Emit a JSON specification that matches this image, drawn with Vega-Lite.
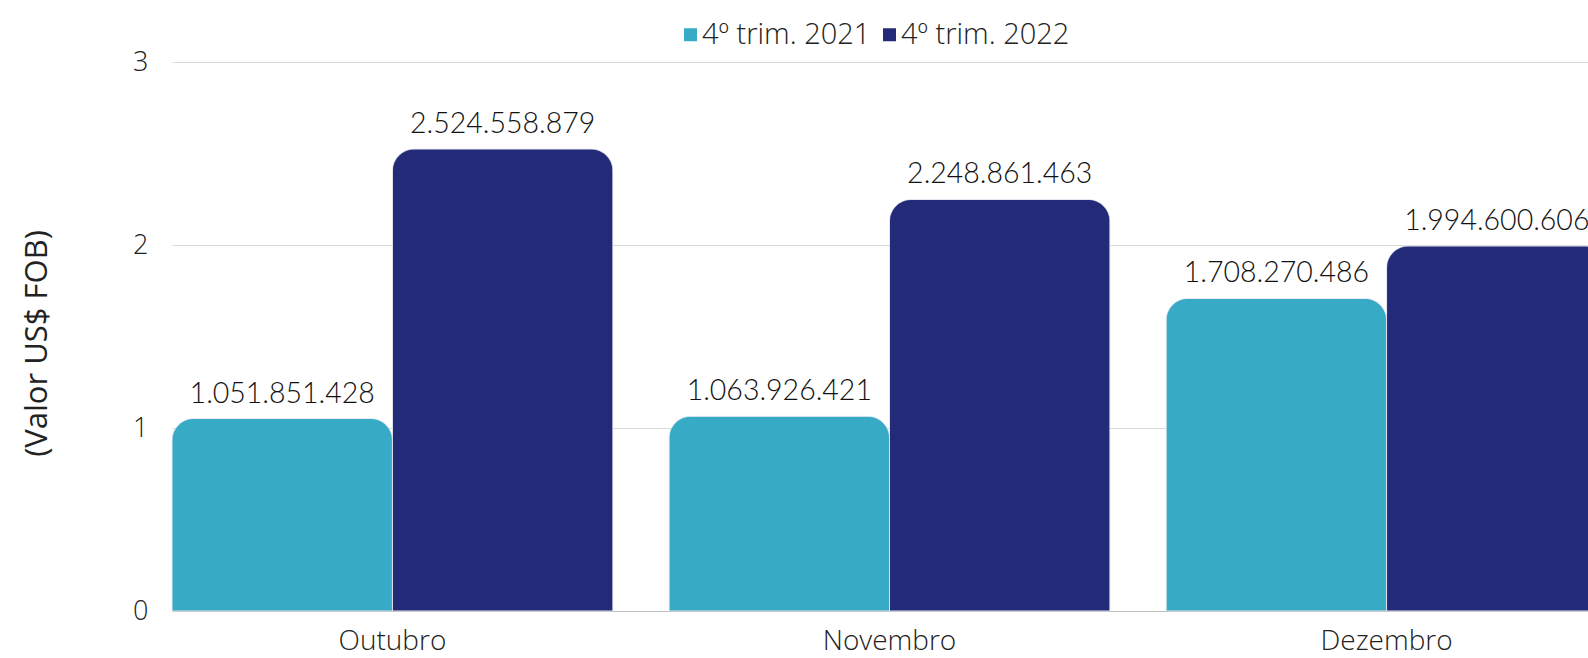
{
  "$schema": "https://vega.github.io/schema/vega-lite/v6.json",
  "autosize": {"type": "none"},
  "width": 1416,
  "height": 549,
  "padding": {"left": 172, "top": 62, "right": 0, "bottom": 47},
  "background": "white",
  "config": {
    "locale": {"number": {"decimal": ",", "thousands": ".", "grouping": [3], "currency": ["R$", ""]}},
    "view": {"stroke": null},
    "font": "Open Sans"
  },
  "data": {
    "values": [
      {"mes": "Outubro", "serie": "4º trim. 2021", "valor": 1051851428},
      {"mes": "Outubro", "serie": "4º trim. 2022", "valor": 2524558879},
      {"mes": "Novembro", "serie": "4º trim. 2021", "valor": 1063926421},
      {"mes": "Novembro", "serie": "4º trim. 2022", "valor": 2248861463},
      {"mes": "Dezembro", "serie": "4º trim. 2021", "valor": 1708270486},
      {"mes": "Dezembro", "serie": "4º trim. 2022", "valor": 1994600606}
    ]
  },
  "encoding": {
    "x": {
      "field": "mes", "type": "nominal", "sort": ["Outubro", "Novembro", "Dezembro"],
      "scale": {"range": [0, 1435], "paddingInner": 0.113, "paddingOuter": 0},
      "axis": {"title": null, "labelAngle": 0, "labelFontSize": 28, "labelFontWeight": 300, "labelColor": "#222222", "labelPadding": 16, "ticks": false, "domainColor": "#bfbfbf", "domainWidth": 1.2, "grid": false}
    },
    "xOffset": {"field": "serie", "type": "nominal", "scale": {"paddingInner": 0, "paddingOuter": 0}},
    "y": {
      "field": "valor", "type": "quantitative",
      "scale": {"domain": [0, 3000000000], "nice": false},
      "axis": {"values": [0, 1000000000, 2000000000, 3000000000], "labelExpr": "format(datum.value/1e9,'d')", "labelFontSize": 27, "labelFontWeight": 300, "labelColor": "#222222", "labelPadding": 24, "ticks": false, "domain": false, "gridColor": "#d9d9d9", "gridWidth": 1,
        "title": "(Valor US$ FOB)", "titleFontSize": 31, "titleFontWeight": 400, "titleColor": "#222222", "titleX": -135, "titleY": 281, "titleAngle": -90, "titleAlign": "center", "titleBaseline": "middle"}
    }
  },
  "layer": [
    {
      "mark": {"type": "bar", "cornerRadiusTopLeft": 22, "cornerRadiusTopRight": 22, "stroke": "#e6e6f0", "strokeWidth": 0.6},
      "encoding": {
        "color": {
          "field": "serie", "type": "nominal",
          "scale": {"domain": ["4º trim. 2021", "4º trim. 2022"], "range": ["#37AAC6", "#232B79"]},
          "legend": {"title": null, "orient": "none", "legendX": 504, "legendY": -42, "direction": "horizontal", "symbolType": "square", "symbolSize": 169, "symbolStrokeWidth": 0, "labelFontSize": 29, "labelFontWeight": 300, "labelColor": "#222222", "labelOffset": -3, "labelLimit": 400, "columnPadding": 4, "symbolOpacity": 1}
        }
      }
    },
    {
      "mark": {"type": "text", "baseline": "alphabetic", "dy": -16, "font": "Lato", "fontSize": 28.5, "fontWeight": 300, "color": "#111111"},
      "encoding": {
        "text": {"field": "valor", "type": "quantitative", "format": ",d"}
      }
    }
  ]
}
